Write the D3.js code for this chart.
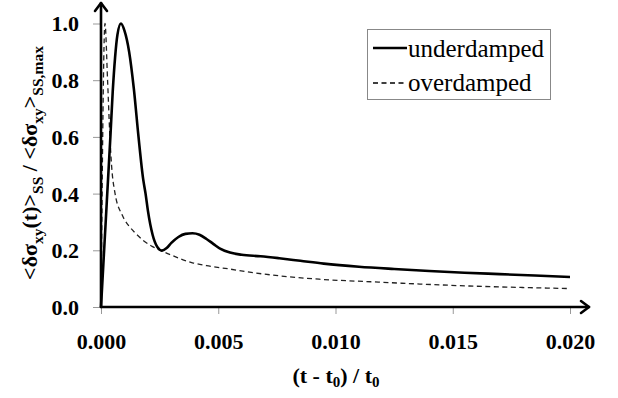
<!DOCTYPE html>
<html>
<head>
<meta charset="utf-8">
<script src="https://cdn.jsdelivr.net/npm/d3@7"></script>
<style>
  html, body { margin: 0; padding: 0; background: #fff; }
  svg { display: block; }
  svg text { font-family: 'Liberation Serif', 'Times New Roman', Times, 'DejaVu Serif', serif !important; fill: #000; }
  .tick text { font-weight: bold; font-size: 22px; }
</style>
</head>
<body>
<script>
// Normalised shear-stress response after a step, two damping regimes
const underT = [0, 0.0001, 0.0002, 0.0003, 0.0004, 0.0005, 0.0006, 0.0007, 0.00085, 0.001, 0.0012, 0.0014, 0.0016, 0.0018, 0.0019, 0.002, 0.0022, 0.0024, 0.0026, 0.0028, 0.003, 0.0033, 0.0036, 0.0039, 0.0042, 0.0045, 0.0048, 0.0051, 0.0055, 0.006, 0.0068, 0.0076, 0.0085, 0.0095, 0.011, 0.0125, 0.014, 0.0155, 0.017, 0.0185, 0.02];
const underV = [0, 0.15, 0.3, 0.45, 0.6, 0.76, 0.88, 0.96, 1.0, 0.975, 0.9, 0.77, 0.6, 0.45, 0.4, 0.34, 0.255, 0.212, 0.199, 0.208, 0.226, 0.247, 0.258, 0.26, 0.255, 0.24, 0.222, 0.205, 0.192, 0.184, 0.179, 0.172, 0.163, 0.153, 0.142, 0.134, 0.127, 0.121, 0.116, 0.111, 0.106];

const overT = [0, 0.00017, 0.00028, 0.00038, 0.00045, 0.0006, 0.0009, 0.0012, 0.00145, 0.0018, 0.0022, 0.0026, 0.003, 0.0039, 0.0045, 0.0054, 0.0065, 0.0076, 0.0093, 0.0115, 0.0136, 0.0157, 0.0179, 0.02];
const overV = [0, 1.0, 0.8, 0.6, 0.5, 0.4, 0.325, 0.285, 0.262, 0.235, 0.213, 0.197, 0.183, 0.156, 0.146, 0.135, 0.121, 0.11, 0.098, 0.089, 0.081, 0.074, 0.069, 0.065];

const xTicks = [0, 0.005, 0.01, 0.015, 0.02];
const yTicks = [0, 0.2, 0.4, 0.6, 0.8, 1.0];
const seriesNames = ["underdamped", "overdamped"];

const W = 618, H = 398;
const svg = d3.select("body").append("svg").attr("width", W).attr("height", H);

const x = d3.scaleLinear().domain([0, 0.02]).range([101, 570]);
const y = d3.scaleLinear().domain([0, 1]).range([307, 23.5]);

// ticks
const xAxis = svg.append("g").attr("transform", `translate(0,${y(0)})`)
  .call(d3.axisBottom(x).tickValues(xTicks).tickFormat(d3.format(".3f")).tickSize(7).tickPadding(19));
const yAxis = svg.append("g").attr("transform", `translate(${x(0)},0)`)
  .call(d3.axisLeft(y).tickValues(yTicks).tickFormat(d3.format(".1f")).tickSize(8).tickPadding(14));
[xAxis, yAxis].forEach(g => {
  g.attr("font-family", null).attr("font-size", null);
  g.select(".domain").remove();
  g.selectAll(".tick line").attr("stroke", "#999").attr("stroke-width", 1);
});
yAxis.selectAll(".tick text").attr("dy", "0.34em");

// curves
const line = d3.line().x(d => x(d[0])).y(d => y(d[1])).curve(d3.curveMonotoneX);
svg.append("path")
  .datum(overT.map((t, i) => [t, overV[i]]))
  .attr("d", line).attr("fill", "none").attr("stroke", "#222")
  .attr("stroke-width", 1.3).attr("stroke-dasharray", "5,3.5");
svg.append("path")
  .datum(underT.map((t, i) => [t, underV[i]]))
  .attr("d", line).attr("fill", "none").attr("stroke", "#000")
  .attr("stroke-width", 2.6);

// axis lines with open arrow heads
const ax = svg.append("g").attr("stroke", "#000").attr("stroke-width", 2.6).attr("fill", "none")
  .attr("stroke-linecap", "round").attr("stroke-linejoin", "round");
const x0 = x(0), y0 = y(0), yTop = 3, xEnd = 589;
ax.append("line").attr("x1", x0).attr("y1", y0).attr("x2", x0).attr("y2", yTop);
ax.append("line").attr("x1", x0).attr("y1", y0).attr("x2", xEnd).attr("y2", y0);
ax.append("polyline").attr("points", `${x0 - 6},${yTop + 8} ${x0},${yTop} ${x0 + 6},${yTop + 8}`);
ax.append("polyline").attr("points", `${xEnd - 8},${y0 - 6} ${xEnd},${y0} ${xEnd - 8},${y0 + 6}`);

// axis titles
const xt = svg.append("text").attr("x", 336).attr("y", 383).attr("text-anchor", "middle")
  .attr("font-weight", "bold").attr("font-size", 22);
xt.append("tspan").text("(t - t");
xt.append("tspan").attr("font-size", 15).attr("dy", 4).text("0");
xt.append("tspan").attr("dy", -4).text(") / t");
xt.append("tspan").attr("font-size", 15).attr("dy", 4).text("0");

const yt = svg.append("text").attr("transform", "translate(37,163) rotate(-90)")
  .attr("text-anchor", "middle").attr("font-weight", "bold").attr("font-size", 22);
const parts = [
  ["<δσ", 0], ["xy", 1], ["(t)>", 0], ["SS", 1], [" / <δσ", 0], ["xy", 1], [">", 0], ["SS,max", 1]
];
let cur = 0;
parts.forEach(([txt, sub]) => {
  const target = sub ? 6 : 0;
  yt.append("tspan").attr("dy", target - cur).attr("font-size", sub ? 15.5 : 22).text(txt);
  cur = target;
});

// legend
const lg = svg.append("g");
lg.append("rect").attr("x", 367.5).attr("y", 29.5).attr("width", 183).attr("height", 70)
  .attr("fill", "#fff").attr("stroke", "#888").attr("stroke-width", 1);
const rows = [
  { name: seriesNames[0], dash: null, w: 2.6, ly: 48, ty: 57 },
  { name: seriesNames[1], dash: "5,3.5", w: 1.3, ly: 83, ty: 91 }
];
rows.forEach(r => {
  lg.append("line").attr("x1", 373).attr("x2", 407).attr("y1", r.ly).attr("y2", r.ly)
    .attr("stroke", "#000").attr("stroke-width", r.w).attr("stroke-dasharray", r.dash);
  lg.append("text").attr("x", 408).attr("y", r.ty)
    .attr("font-size", 25).text(r.name);
});
</script>
</body>
</html>
